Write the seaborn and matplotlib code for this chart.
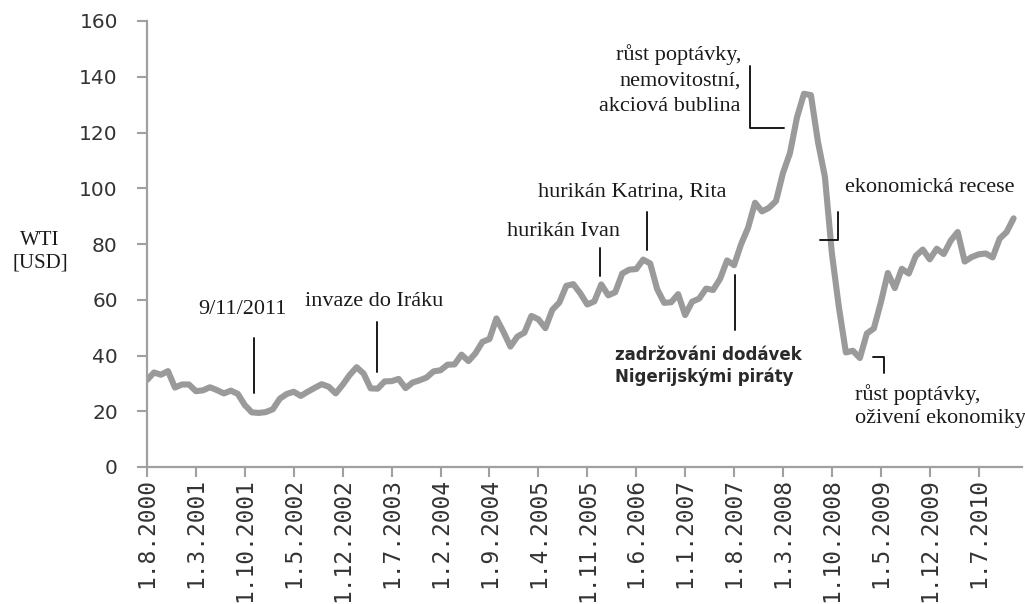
import matplotlib
matplotlib.use("Agg")
import matplotlib.pyplot as plt
import seaborn as sns
import pandas as pd

# monthly WTI [USD], Aug 2000 .. Dec 2010
wti_2000 = [31.2, 33.9, 33.1, 34.4, 28.5]
wti_2001 = [29.6, 29.6, 27.2, 27.5, 28.6, 27.6, 26.4, 27.4, 26.2, 22.2, 19.6, 19.4]
wti_2002 = [19.7, 20.7, 24.5, 26.2, 27.0, 25.5, 27.0, 28.4, 29.7, 28.8, 26.4, 29.5]
wti_2003 = [33.0, 35.8, 33.5, 28.2, 28.1, 30.7, 30.8, 31.6, 28.3, 30.3, 31.1, 32.1]
wti_2004 = [34.3, 34.7, 36.7, 36.8, 40.3, 38.0, 40.8, 44.9, 45.9, 53.3, 48.5, 43.2]
wti_2005 = [46.8, 48.2, 54.2, 53.0, 49.8, 56.4, 59.0, 65.0, 65.6, 62.3, 58.3, 59.4]
wti_2006 = [65.5, 61.6, 62.7, 69.4, 70.8, 71.0, 74.4, 73.0, 63.8, 58.9, 59.1, 62.0]
wti_2007 = [54.5, 59.3, 60.4, 64.0, 63.5, 67.5, 74.1, 72.4, 79.9, 85.8, 94.8, 91.7]
wti_2008 = [93.0, 95.4, 105.5, 112.6, 125.4, 133.9, 133.4, 116.7, 104.1, 76.6, 57.3, 41.1]
wti_2009 = [41.7, 39.1, 47.9, 49.7, 59.0, 69.6, 64.2, 71.1, 69.4, 75.7, 78.0, 74.5]
wti_2010 = [78.3, 76.4, 81.2, 84.3, 73.7, 75.3, 76.3, 76.6, 75.2, 81.9, 84.3, 89.2]

tick_labels = ["1.8.2000", "1.3.2001", "1.10.2001", "1.5.2002", "1.12.2002",
               "1.7.2003", "1.2.2004", "1.9.2004", "1.4.2005", "1.11.2005",
               "1.6.2006", "1.1.2007", "1.8.2007", "1.3.2008", "1.10.2008",
               "1.5.2009", "1.12.2009", "1.7.2010"]
y_ticks = [0, 20, 40, 60, 80, 100, 120, 140, 160]

values = (wti_2000 + wti_2001 + wti_2002 + wti_2003 + wti_2004 + wti_2005 +
          wti_2006 + wti_2007 + wti_2008 + wti_2009 + wti_2010)
df = pd.DataFrame({"month": range(len(values)), "wti": values})

sns.set_theme(style="white")
plt.rcParams['font.family'] = ['DejaVu Sans']

fig = plt.figure(figsize=(10.25, 6.04), dpi=100)
ax = fig.add_axes([147 / 1025, 137 / 604, 875 / 1025, 446 / 604])

sns.lineplot(data=df, x="month", y="wti", ax=ax, color="#9a9a9a",
             linewidth=4.4, solid_capstyle="round", solid_joinstyle="round")

ax.set_xlim(0, 125.2)
ax.set_ylim(0, 160)
ax.set_xticks(range(0, 7 * len(tick_labels), 7))
ax.set_xticklabels(tick_labels, rotation=90, family="DejaVu Sans Mono",
                   fontsize=16.5, color="#333333")
ax.set_yticks(y_ticks)
ax.set_yticklabels([str(v) for v in y_ticks], fontsize=14.5, color="#333333")
ax.tick_params(axis="y", direction="out", length=7, width=1.5,
               color="#a0a0a0", pad=14, left=True)
ax.tick_params(axis="x", direction="out", length=7, width=1.5,
               color="#a0a0a0", pad=1, bottom=True)
for s in ["top", "right"]:
    ax.spines[s].set_visible(False)
for s in ["left", "bottom"]:
    ax.spines[s].set_color("#a0a0a0")
    ax.spines[s].set_linewidth(1.6)
ax.set_xlabel("")
ax.set_ylabel("")
ax.grid(False)

serif = ["Liberation Serif", "DejaVu Serif"]
tc = "#1a1a1a"
fs = 16


def px(x, y):
    return ((x - 147) / 6.99, (467 - y) * 160 / 446)


fig.text(40 / 1025, 1 - 252 / 604, "WTI\n[USD]", family=serif, fontsize=15,
         color=tc, ha="center", va="center", linespacing=1.25)


def txt(x, y, s, ha="left", family=None, fontsize=fs, color=tc, **kw):
    X, Y = px(x, y)
    ax.text(X, Y, s, ha=ha, va="center", family=family or serif,
            fontsize=fontsize, color=color, clip_on=False, **kw)


def seg(pts):
    xs, ys = zip(*[px(a, b) for a, b in pts])
    ax.plot(xs, ys, color="#1a1a1a", linewidth=1.4, clip_on=False)


txt(242, 310, "9/11/2011", ha="center")
seg([(254, 338), (254, 393)])
txt(305, 302, "invaze do Iráku")
seg([(377, 322), (377, 372)])
txt(507, 232, "hurikán Ivan")
seg([(600, 248), (600, 276)])
txt(538, 192, "hurikán Katrina, Rita")
seg([(647, 212), (647, 250)])
txt(741, 80, "růst poptávky,\nnemovitostní,\nakciová bublina", ha="right",
    multialignment="right", linespacing=1.45)
seg([(750, 66), (750, 128), (784, 128)])
txt(845, 187, "ekonomická recese")
seg([(820, 240), (838, 240), (838, 212)])
txt(615, 366, "zadržováni dodávek\nNigerijskými piráty", family=["DejaVu Sans"],
    fontsize=12, fontweight="bold", color="#2a2a2a", linespacing=1.3)
seg([(735, 275), (735, 330)])
txt(855, 406, "růst poptávky,\noživení ekonomiky", linespacing=1.3)
seg([(873, 357), (884, 357), (884, 373)])

fig.savefig("out.png", dpi=100)
